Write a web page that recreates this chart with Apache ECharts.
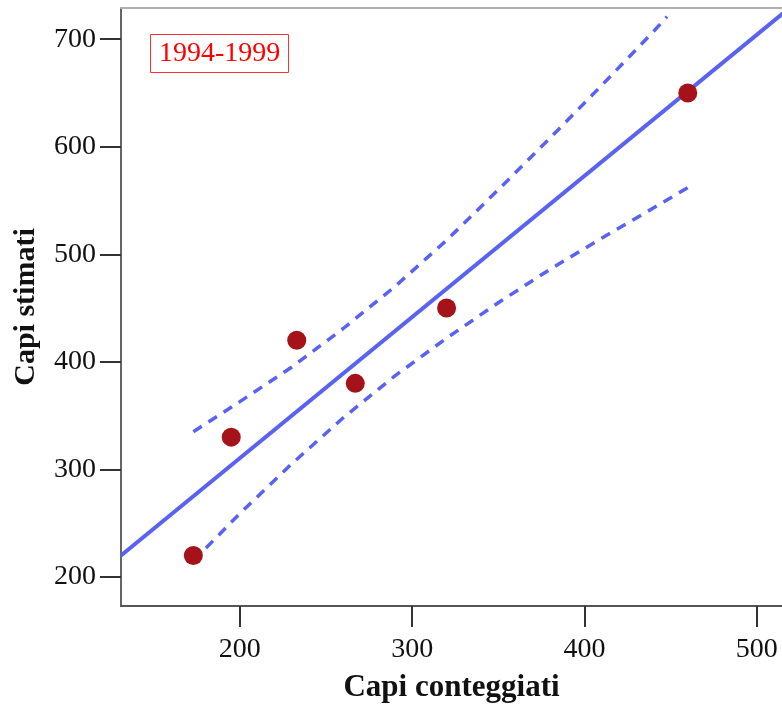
<!DOCTYPE html>
<html>
<head>
<meta charset="utf-8">
<script src="https://cdn.jsdelivr.net/npm/echarts@6/dist/echarts.min.js"></script>
<style>html,body{margin:0;padding:0;background:#fff}#c{width:782px;height:708px}</style>
</head>
<body>
<div id="c"></div>
<script>
// Observed points: [Capi conteggiati, Capi stimati]
const points = [[173, 220], [195, 330], [233, 420], [267, 380], [320, 450], [460, 650]];
// Regression line end points
const fitLine = [[131, 220], [516, 725]];
// Upper and lower dashed confidence curves
const upperBand = [[173, 335], [200, 363], [230, 395], [260, 431], [290, 470], [320, 513], [350, 560], [380, 608], [410, 657], [440, 707], [448, 721]];
const lowerBand = [[173, 215], [200, 259], [230, 305], [260, 348], [290, 387], [320, 422], [350, 455], [380, 486], [410, 515], [440, 543], [460, 562]];
const xTicks = [200, 300, 400, 500];
const yTicks = [200, 300, 400, 500, 600, 700];
const periodLabel = '1994-1999';

const chart = echarts.init(document.getElementById('c'), null, {renderer: 'canvas'});
const serif = "'Liberation Serif', 'DejaVu Serif', serif";
const blue = '#5a62f2';
chart.setOption({
  animation: false,
  backgroundColor: '#ffffff',
  title: {
    text: periodLabel,
    left: 150, top: 34,
    borderColor: '#ff3030', borderWidth: 1,
    padding: [5, 8, 4, 9],
    textStyle: {color: '#ff0000', fontFamily: serif, fontWeight: 'normal', fontSize: 28, lineHeight: 30}
  },
  grid: {left: 121, right: 0, top: 8, bottom: 101, show: false},
  xAxis: [{
    type: 'value', min: 131, max: 514.7,
    name: 'Capi conteggiati', nameLocation: 'middle', nameGap: 66,
    nameTextStyle: {fontFamily: serif, fontWeight: 'bold', fontSize: 31, color: '#111'},
    axisLine: {show: true, onZero: false, lineStyle: {color: '#555', width: 2}},
    axisTick: {show: true, length: 21, customValues: xTicks, lineStyle: {color: '#333', width: 2}},
    axisLabel: {customValues: xTicks, margin: 30, fontFamily: serif, fontSize: 28, color: '#111'},
    splitLine: {show: false}
  }, {
    type: 'value', position: 'top', min: 131, max: 514.7,
    axisLine: {show: true, onZero: false, lineStyle: {color: '#b0b0b0', width: 2}},
    axisTick: {show: false}, axisLabel: {show: false}, splitLine: {show: false}
  }],
  yAxis: {
    type: 'value', min: 173, max: 729,
    name: 'Capi stimati', nameLocation: 'middle', nameGap: 80,
    nameTextStyle: {fontFamily: serif, fontWeight: 'bold', fontSize: 30, color: '#111'},
    axisLine: {show: true, onZero: false, lineStyle: {color: '#666', width: 2}},
    axisTick: {show: true, length: 21, customValues: yTicks, lineStyle: {color: '#333', width: 2}},
    axisLabel: {customValues: yTicks, margin: 25, fontFamily: serif, fontSize: 28, color: '#111'},
    splitLine: {show: false}
  },
  series: [
    {type: 'line', data: fitLine, showSymbol: false, symbol: 'none', lineStyle: {color: blue, width: 4}, clip: true, z: 2},
    {type: 'line', data: upperBand, showSymbol: false, symbol: 'none', smooth: false, lineStyle: {color: blue, width: 3.5, type: [10, 8]}, clip: true, z: 2},
    {type: 'line', data: lowerBand, showSymbol: false, symbol: 'none', smooth: false, lineStyle: {color: blue, width: 3.5, type: [10, 8]}, clip: true, z: 2},
    {type: 'scatter', data: points, symbol: 'circle', symbolSize: 19, itemStyle: {color: '#a51219', opacity: 1}, z: 3}
  ]
});
</script>
</body>
</html>
